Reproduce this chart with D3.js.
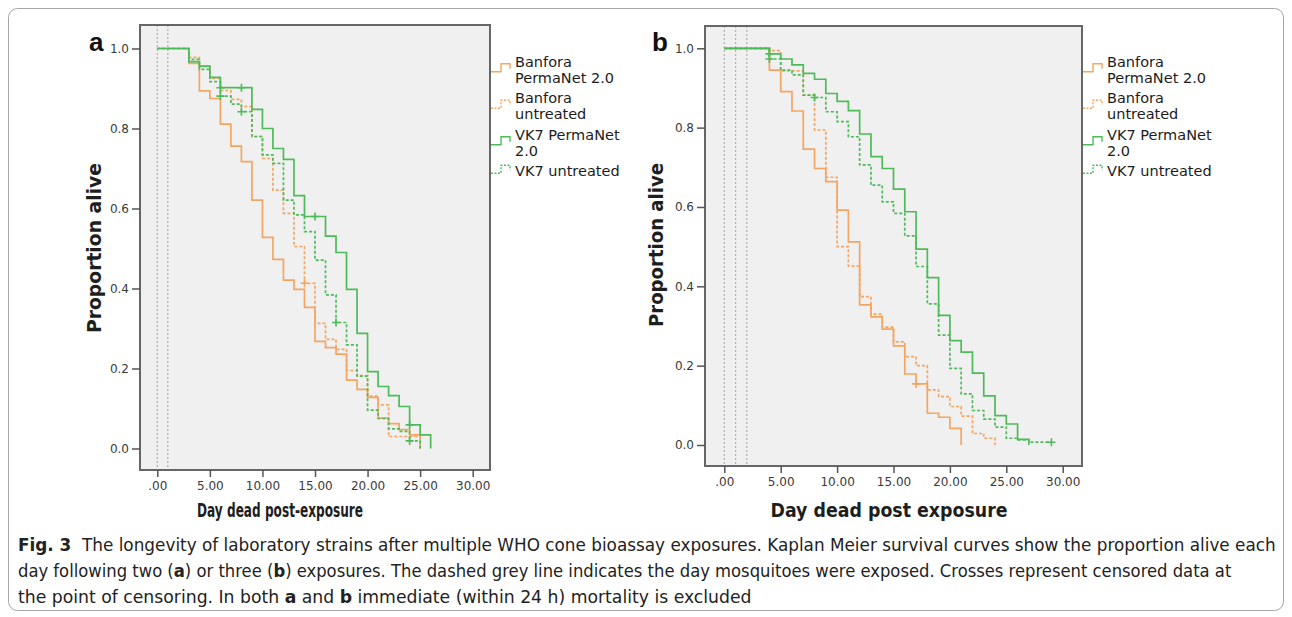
<!DOCTYPE html>
<html>
<head>
<meta charset="utf-8">
<script src="https://cdn.jsdelivr.net/npm/d3@7"></script>
<style>
  body { margin: 0; background: #fff; }
</style>
</head>
<body>
<script>
// survival proportion per day (index = day post exposure)
var aBanforaPN = [1, 1, 1, 0.963, 0.894, 0.875, 0.811, 0.756, 0.717, 0.621, 0.528, 0.473, 0.421, 0.398, 0.353, 0.268, 0.252, 0.236, 0.171, 0.148, 0.128, 0.076, 0.062, 0.047, 0.034, 0];
var aBanforaUn = [1, 1, 1, 0.978, 0.955, 0.925, 0.895, 0.873, 0.855, 0.78, 0.725, 0.646, 0.588, 0.505, 0.413, 0.313, 0.273, 0.248, 0.195, 0.182, 0.131, 0.109, 0.03, 0.03, 0.03, 0];
var aVK7PN = [1, 1, 1, 0.967, 0.956, 0.928, 0.902, 0.902, 0.902, 0.848, 0.8, 0.75, 0.723, 0.632, 0.58, 0.58, 0.531, 0.49, 0.398, 0.288, 0.192, 0.155, 0.132, 0.105, 0.059, 0.034, 0];
var aVK7Un = [1, 1, 1, 0.973, 0.948, 0.917, 0.881, 0.861, 0.842, 0.78, 0.734, 0.713, 0.621, 0.584, 0.542, 0.471, 0.384, 0.315, 0.259, 0.181, 0.096, 0.075, 0.049, 0.043, 0.019, 0];

var bBanforaPN = [1, 1, 1, 1, 0.945, 0.891, 0.842, 0.746, 0.697, 0.664, 0.592, 0.512, 0.353, 0.323, 0.292, 0.25, 0.179, 0.154, 0.08, 0.07, 0.042, 0];
var bBanforaUn = [1, 1, 1, 1, 0.994, 0.943, 0.943, 0.882, 0.794, 0.675, 0.5, 0.451, 0.374, 0.33, 0.297, 0.26, 0.223, 0.2, 0.139, 0.122, 0.097, 0.073, 0.029, 0.017, 0];
var bVK7PN = [1, 1, 1, 1, 0.986, 0.973, 0.958, 0.937, 0.922, 0.886, 0.866, 0.843, 0.784, 0.727, 0.697, 0.645, 0.588, 0.494, 0.422, 0.327, 0.263, 0.234, 0.181, 0.124, 0.074, 0.053, 0.014, 0];
var bVK7Un = [1, 1, 1, 1, 0.973, 0.945, 0.933, 0.882, 0.876, 0.84, 0.815, 0.777, 0.706, 0.655, 0.613, 0.584, 0.527, 0.45, 0.356, 0.277, 0.193, 0.129, 0.087, 0.065, 0.045, 0.017, 0.013, 0.007, 0.007, 0.007];

// censored observations (days)
var aCensorBanforaUn = [14];
var aCensorVK7PN = [6, 8, 15, 24];
var aCensorVK7Un = [6, 8, 17, 24];
var bCensorBanforaPN = [17];
var bCensorVK7PN = [4];
var bCensorVK7Un = [4, 8, 29];

// exposure days (dashed grey lines)
var aExposures = [0, 1];
var bExposures = [0, 1, 2];

var xTicks = [0, 5, 10, 15, 20, 25, 30];
var yTicks = [0, 0.2, 0.4, 0.6, 0.8, 1.0];
var legendLabels = [["Banfora", "PermaNet 2.0"], ["Banfora", "untreated"], ["VK7 PermaNet", "2.0"], ["VK7 untreated"]];

var orange = "#f5a562", green = "#4dbb5a";

var svg = d3.select("body").append("svg")
    .attr("width", 1292)
    .attr("height", 617)
    .style("font-family", "'DejaVu Sans', sans-serif");

// figure frame
svg.append("rect")
    .attr("x", 8.5).attr("y", 8.5)
    .attr("width", 1275).attr("height", 602)
    .attr("rx", 9)
    .attr("fill", "#fff")
    .attr("stroke", "#a6a6a6")
    .attr("stroke-width", 1);

function drawPanel(p) {
    var g = svg.append("g");
    var x = d3.scaleLinear().domain([0, 30]).range(p.xRange);
    var y = d3.scaleLinear().domain([0, 1]).range(p.yRange);
    var box = p.box;

    g.append("rect")
        .attr("x", box.l).attr("y", box.t)
        .attr("width", box.r - box.l).attr("height", box.b - box.t)
        .attr("fill", "#f0f0f0");

    // exposure days
    g.selectAll(".expo")
        .data(p.exposures)
        .enter().append("line")
        .attr("x1", function(d) { return x(d); })
        .attr("x2", function(d) { return x(d); })
        .attr("y1", box.t).attr("y2", box.b)
        .attr("stroke", "#b4b4b4")
        .attr("stroke-width", 1.3)
        .attr("stroke-dasharray", "2,2");

    var line = d3.line()
        .x(function(d) { return x(d[0]); })
        .y(function(d) { return y(d[1]); })
        .curve(d3.curveStepAfter);

    p.series.forEach(function(s) {
        var pts = s.values.map(function(v, i) { return [i, v]; });
        g.append("path")
            .attr("d", line(pts))
            .attr("fill", "none")
            .attr("stroke", s.color)
            .attr("stroke-width", 1.7)
            .attr("stroke-dasharray", s.dash ? "3,2" : null);

        s.censor.forEach(function(day) {
            var cx = x(day), cy = y(s.values[day]);
            g.append("path")
                .attr("d", "M" + (cx - 4) + "," + cy + "H" + (cx + 4) + "M" + cx + "," + (cy - 4) + "V" + (cy + 4))
                .attr("stroke", s.color)
                .attr("stroke-width", 1.6);
        });
    });

    // frame
    g.append("rect")
        .attr("x", box.l).attr("y", box.t)
        .attr("width", box.r - box.l).attr("height", box.b - box.t)
        .attr("fill", "none")
        .attr("stroke", "#666")
        .attr("stroke-width", 2);

    var ya = g.append("g")
        .attr("transform", "translate(" + box.l + ",0)")
        .call(d3.axisLeft(y).tickValues(yTicks).tickSize(8).tickPadding(3).tickFormat(d3.format(".1f")));
    var xa = g.append("g")
        .attr("transform", "translate(0," + box.b + ")")
        .call(d3.axisBottom(x).tickValues(xTicks).tickSize(7).tickPadding(4)
            .tickFormat(function(d) { return d === 0 ? ".00" : d3.format(".2f")(d); }));
    [ya, xa].forEach(function(a) {
        a.select(".domain").remove();
        a.selectAll("line").attr("stroke", "#555").attr("stroke-width", 1.5);
        a.selectAll("text").attr("fill", "#3a3a3a").style("font-size", "12px").style("font-family", "'DejaVu Sans', sans-serif");
    });

    // axis titles
    g.append("text")
        .attr("transform", "translate(" + p.yTitle.x + "," + p.yTitle.y + ") rotate(-90)")
        .attr("text-anchor", "middle")
        .attr("textLength", p.yTitle.len)
        .attr("lengthAdjust", "spacingAndGlyphs")
        .style("font-size", "20px").style("font-weight", "bold")
        .attr("fill", "#1e1e1e")
        .text("Proportion alive");
    g.append("text")
        .attr("x", p.xTitle.x).attr("y", p.xTitle.y)
        .attr("text-anchor", "middle")
        .attr("textLength", p.xTitle.len)
        .attr("lengthAdjust", "spacingAndGlyphs")
        .style("font-size", "19px").style("font-weight", "bold")
        .attr("fill", "#1e1e1e")
        .text(p.xTitle.text);

    // panel letter
    g.append("text")
        .attr("x", p.letter.x).attr("y", p.letter.y)
        .style("font-family", "'Liberation Sans', Arial, sans-serif")
        .style("font-size", "26px").style("font-weight", "bold")
        .attr("fill", "#111")
        .text(p.letter.text);

    // legend
    var lg = g.append("g").attr("clip-path", p.legendClip ? "url(#" + p.legendClip + ")" : null);
    var b1 = 66.7;
    p.series.forEach(function(s, i) {
        var lines = legendLabels[i];
        var last = b1 + (lines.length - 1) * 16;
        var c = (b1 + last) / 2 - 7;
        var ix = p.legendX;
        lg.append("path")
            .attr("d", "M" + ix + "," + (c + 4) + "H" + (ix + 10) + "V" + (c - 4) + "H" + (ix + 19) + "V" + (c + 1))
            .attr("fill", "none")
            .attr("stroke", s.color)
            .attr("stroke-width", 1.4)
            .attr("stroke-dasharray", s.dash ? "2,1.5" : null);
        lines.forEach(function(t, j) {
            lg.append("text")
                .attr("x", ix + 24).attr("y", b1 + j * 16)
                .style("font-size", p.legendSize)
                .attr("fill", "#1c1c1c")
                .text(t);
        });
        b1 = last + 20.5;
    });
}

svg.append("defs").append("clipPath").attr("id", "legB")
    .append("rect").attr("x", 1075).attr("y", 20).attr("width", 138).attr("height", 168);

drawPanel({
    box: { l: 140, t: 25, r: 490, b: 470 },
    xRange: [157.3, 472.7],
    yRange: [448.5, 48.5],
    exposures: aExposures,
    series: [
        { values: aBanforaPN, censor: [], color: orange, dash: false },
        { values: aBanforaUn, censor: aCensorBanforaUn, color: orange, dash: true },
        { values: aVK7PN, censor: aCensorVK7PN, color: green, dash: false },
        { values: aVK7Un, censor: aCensorVK7Un, color: green, dash: true }
    ],
    yTitle: { x: 101, y: 248, len: 170 },
    xTitle: { x: 280, y: 517, len: 166, text: "Day dead post-exposure" },
    letter: { x: 89, y: 51, text: "a" },
    legendX: 491,
    legendSize: "14.5px"
});

drawPanel({
    box: { l: 705, t: 26, r: 1082, b: 466 },
    xRange: [724.3, 1062.7],
    yRange: [445, 48.3],
    exposures: bExposures,
    series: [
        { values: bBanforaPN, censor: bCensorBanforaPN, color: orange, dash: false },
        { values: bBanforaUn, censor: [], color: orange, dash: true },
        { values: bVK7PN, censor: bCensorVK7PN, color: green, dash: false },
        { values: bVK7Un, censor: bCensorVK7Un, color: green, dash: true }
    ],
    yTitle: { x: 663, y: 245, len: 164 },
    xTitle: { x: 889, y: 517, len: 237, text: "Day dead post exposure" },
    letter: { x: 652, y: 51, text: "b" },
    legendX: 1083,
    legendSize: "14.5px",
    legendClip: "legB"
});

// caption
var cap = svg.append("g")
    .style("font-family", "'Liberation Sans Narrow', 'DejaVu Sans Condensed', sans-serif")
    .style("font-size", "18.5px")
    .attr("fill", "#222");

var capLines = [
    { y: 551, w: 1258, parts: [["Fig. 3", true], ["  The longevity of laboratory strains after multiple WHO cone bioassay exposures. Kaplan Meier survival curves show the proportion alive each", false]] },
    { y: 577, w: 1214, parts: [["day following two (", false], ["a", true], [") or three (", false], ["b", true], [") exposures. The dashed grey line indicates the day mosquitoes were exposed. Crosses represent censored data at", false]] },
    { y: 603, w: 734, parts: [["the point of censoring. In both ", false], ["a", true], [" and ", false], ["b", true], [" immediate (within 24 h) mortality is excluded", false]] }
];

capLines.forEach(function(l) {
    var t = cap.append("text").attr("x", 18).attr("y", l.y).attr("xml:space", "preserve").style("white-space", "pre");
    l.parts.forEach(function(pt) {
        t.append("tspan").style("font-weight", pt[1] ? "bold" : "normal").text(pt[0]);
    });
    var w = t.node().getComputedTextLength();
    t.attr("transform", "translate(18,0) scale(" + (l.w / w) + ",1) translate(-18,0)");
});
</script>
</body>
</html>
